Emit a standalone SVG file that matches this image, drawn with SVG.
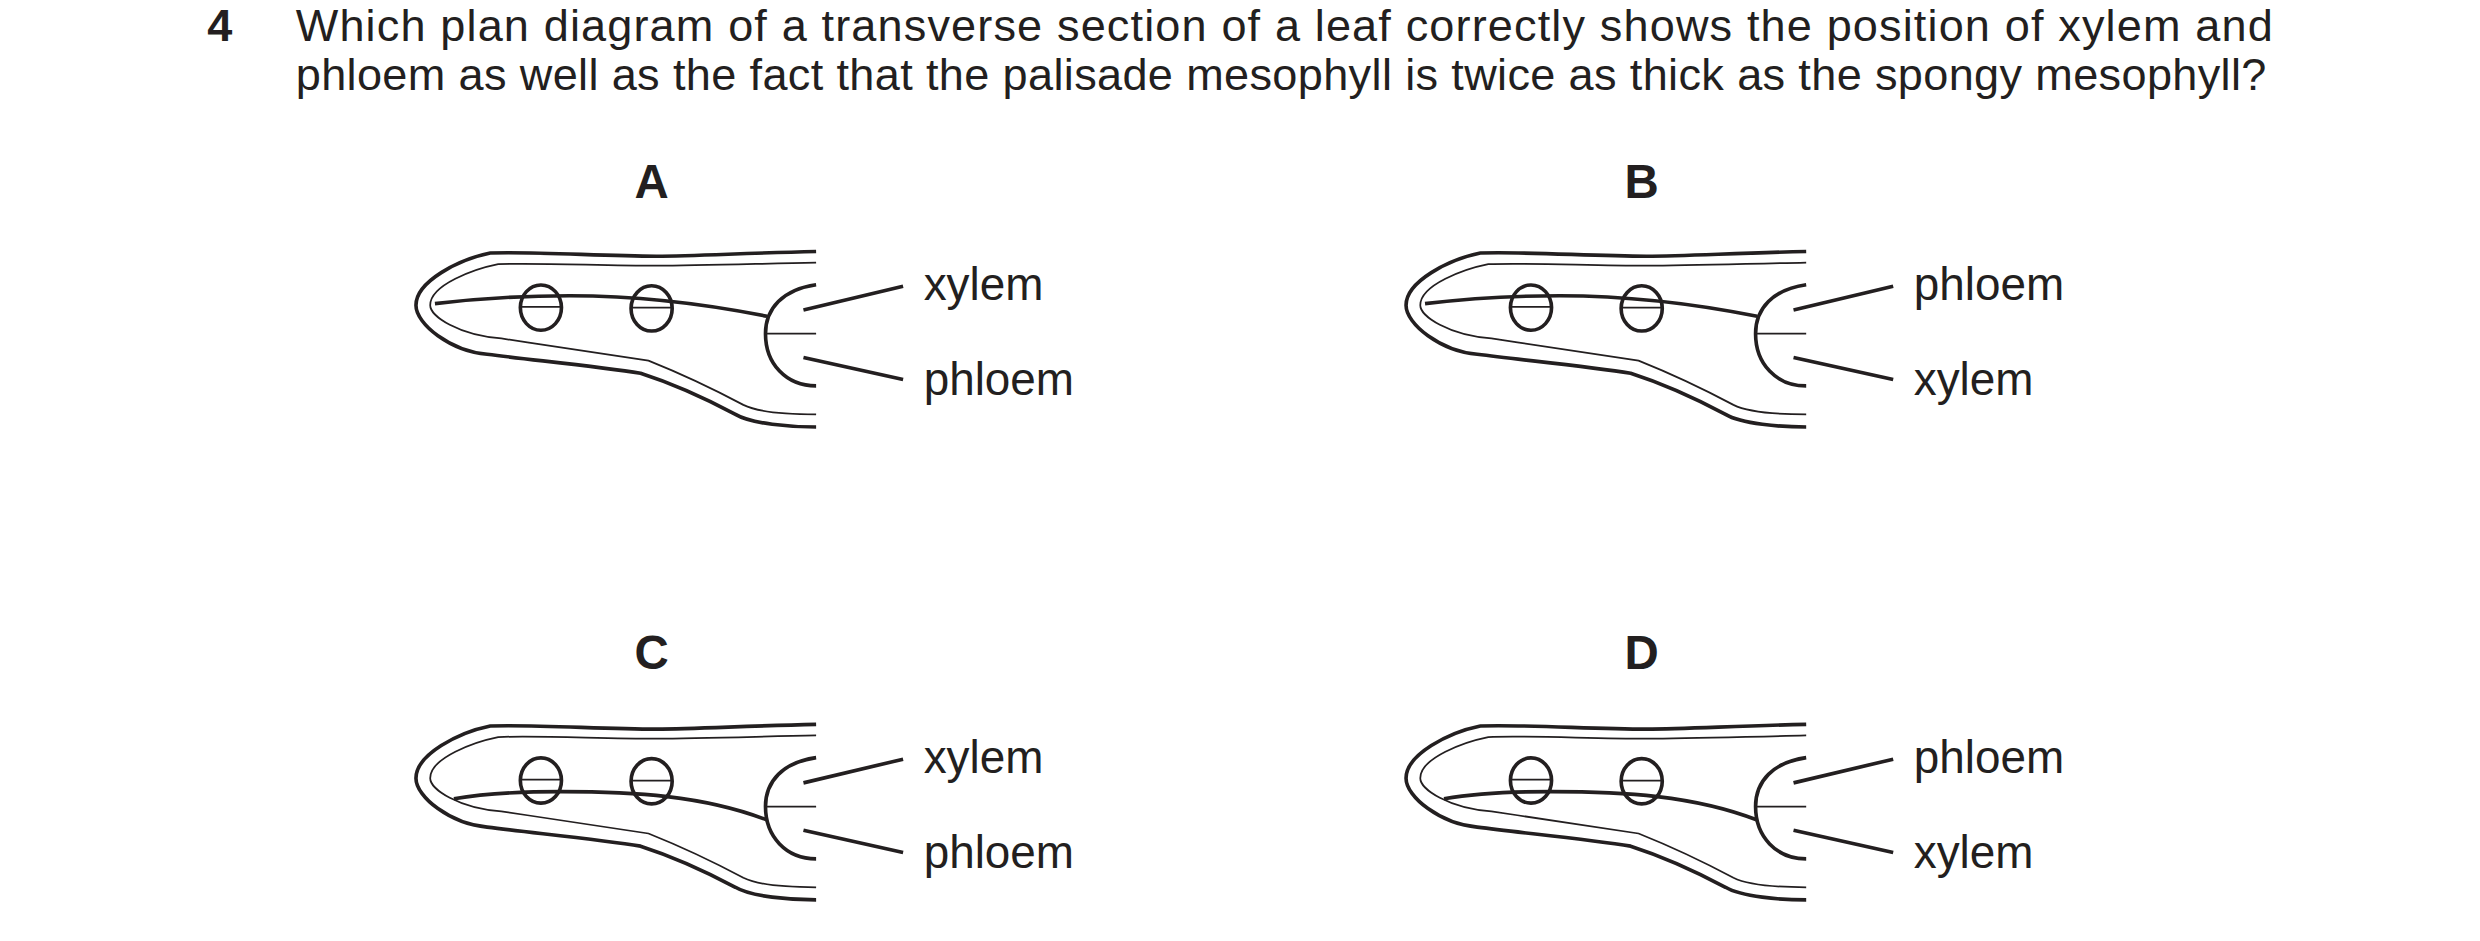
<svg xmlns="http://www.w3.org/2000/svg" width="2480" height="941" viewBox="0 0 2480 941">
<defs>
<style>
.t{font-family:"Liberation Sans",Arial,sans-serif;fill:#231f20}
.q{font-size:28.5px}
.b{font-size:30px;font-weight:bold}
.lb{font-size:29px}
.thick{fill:none;stroke:#231f20;stroke-width:2.3}
.thin{fill:none;stroke:#231f20;stroke-width:1.1}
</style>
<g id="leafbase">
<path class="thick" d="M516,159 C470,160 440,162 415,162 C380,162 340,159 310,160 C290,164 263,178 263,193 C263,205 285,222 308,224 C340,228 380,232 405,236 C430,244 450,254 465,262 C475,268 500,270 516,270"/>
<path class="thin" d="M516,166 C470,167 440,168 415,168 C380,168 340,166 315,167 C300,170 272,180 272,193 C272,200 290,212 317,214 C350,219 385,224 410,228 C435,238 455,248 470,256 C480,261 500,262 516,262"/>
<ellipse class="thick" cx="342" cy="194.5" rx="13" ry="14.3"/>
<ellipse class="thick" cx="412" cy="195" rx="13" ry="14.3"/>
<path class="thick" d="M516,180 C495,183 484,195 484,211 C484,230 497,244 516,244"/>
<line class="thin" x1="484" y1="211" x2="516" y2="211"/>
<line class="thick" x1="508" y1="196" x2="571" y2="181"/>
<line class="thick" x1="508" y1="226" x2="571" y2="240"/>
</g>
</defs>
<rect width="2480" height="941" fill="#fff"/>
<g transform="scale(1.5816)">
<g id="question">
<text class="t q" x="131" y="26" font-weight="bold">4</text>
<text class="t q" x="187" y="26" textLength="1250" lengthAdjust="spacing">Which plan diagram of a transverse section of a leaf correctly shows the position of xylem and</text>
<text class="t q" x="187" y="57" textLength="1246" lengthAdjust="spacing">phloem as well as the fact that the palisade mesophyll is twice as thick as the spongy mesophyll?</text>
</g>
<g id="nodeA">
<text class="t b" x="412" y="125" text-anchor="middle">A</text>
<use href="#leafbase"/>
<line class="thin" x1="329" y1="194" x2="355" y2="194"/>
<line class="thin" x1="399" y1="194.5" x2="425" y2="194.5"/>
<path class="thick" d="M275,192 C300,189 330,187 360,187 C400,187 440,191 485,200"/>
<text class="t lb" x="584" y="190">xylem</text>
<text class="t lb" x="584" y="250">phloem</text>
</g>
<g id="nodeB" transform="translate(626,0)">
<text class="t b" x="412" y="125" text-anchor="middle">B</text>
<use href="#leafbase"/>
<line class="thin" x1="329" y1="194" x2="355" y2="194"/>
<line class="thin" x1="399" y1="194.5" x2="425" y2="194.5"/>
<path class="thick" d="M275,192 C300,189 330,187 360,187 C400,187 440,191 485,200"/>
<text class="t lb" x="584" y="190">phloem</text>
<text class="t lb" x="584" y="250">xylem</text>
</g>
<g id="nodeC" transform="translate(0,299)">
<text class="t b" x="412" y="124" text-anchor="middle">C</text>
<use href="#leafbase"/>
<line class="thin" x1="329" y1="194" x2="355" y2="194"/>
<line class="thin" x1="399" y1="194.5" x2="425" y2="194.5"/>
<path class="thick" d="M287,206 C305,203 325,201.5 355,201.5 C400,201.5 445,204 485,219.5"/>
<text class="t lb" x="584" y="190">xylem</text>
<text class="t lb" x="584" y="250">phloem</text>
</g>
<g id="nodeD" transform="translate(626,299)">
<text class="t b" x="412" y="124" text-anchor="middle">D</text>
<use href="#leafbase"/>
<line class="thin" x1="329" y1="194" x2="355" y2="194"/>
<line class="thin" x1="399" y1="194.5" x2="425" y2="194.5"/>
<path class="thick" d="M287,206 C305,203 325,201.5 355,201.5 C400,201.5 445,204 485,219.5"/>
<text class="t lb" x="584" y="190">phloem</text>
<text class="t lb" x="584" y="250">xylem</text>
</g>
<g id="connectors"/>
</g>
</svg>
